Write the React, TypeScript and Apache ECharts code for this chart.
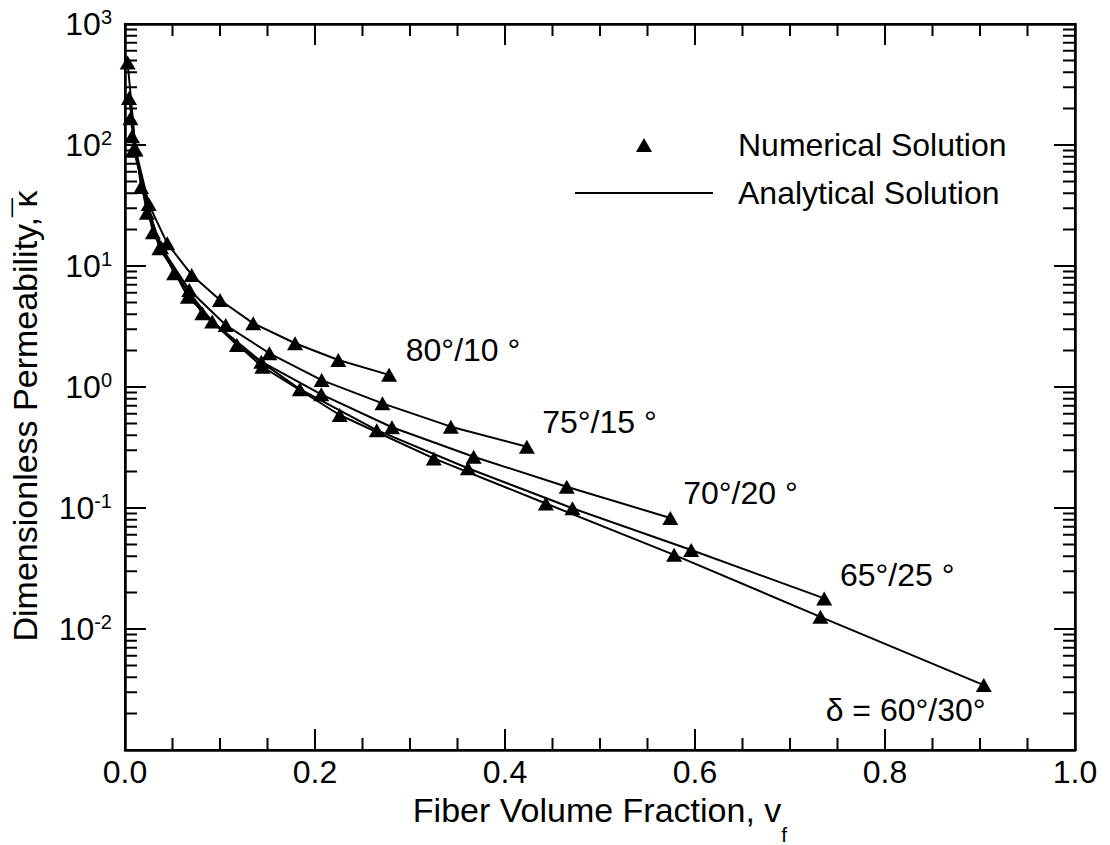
import React, { useEffect, useRef } from 'react';
import * as echarts from 'echarts';

// Fiber volume fraction (x) and dimensionless permeability (y) for each angle pair
const vf80 = [0.0028, 0.0111, 0.025, 0.0444, 0.0702, 0.1, 0.135, 0.179, 0.2245, 0.278];
const k80 = [480, 92, 32.5, 15.4, 8.43, 5.24, 3.36, 2.3, 1.67, 1.26];

const vf75 = [0.0042, 0.0169, 0.038, 0.0677, 0.106, 0.152, 0.207, 0.271, 0.343, 0.423];
const k75 = [245, 45, 14.3, 6.33, 3.25, 1.9, 1.14, 0.733, 0.47, 0.321];

const vf70 = [0.0057, 0.023, 0.0517, 0.0918, 0.1435, 0.2066, 0.281, 0.367, 0.465, 0.574];
const k70 = [166, 27.5, 8.7, 3.47, 1.62, 0.87, 0.465, 0.265, 0.15, 0.0827];

const vf65 = [0.0074, 0.0294, 0.0662, 0.1178, 0.184, 0.265, 0.361, 0.471, 0.596, 0.736];
const k65 = [118, 19, 5.57, 2.22, 0.96, 0.44, 0.213, 0.0995, 0.045, 0.0179];

const vf60 = [0.009, 0.0362, 0.0814, 0.1446, 0.226, 0.325, 0.443, 0.578, 0.732, 0.904];
const k60 = [92, 14.0, 4.06, 1.47, 0.587, 0.257, 0.109, 0.041, 0.0126, 0.00344];

const curveLabels = ['80°/10 °', '75°/15 °', '70°/20 °', '65°/25 °', 'δ = 60°/30°'];
// annotation anchors in data space (left edge, vertical middle of text)
const labelVf = [0.295, 0.4386, 0.587, 0.752, 0.737];
const labelK = [2.02, 0.516, 0.133, 0.0279, 0.00214];

const xTickLabels = ['0.0', '0.2', '0.4', '0.6', '0.8', '1.0'];
const xMajorTicks = [0, 0.2, 0.4, 0.6, 0.8, 1.0];
const xMinorOffsets = [0.05, 0.1, 0.15];
const yDecadeExponents = [-3, -2, -1, 0, 1, 2, 3];
const yMinorMultipliers = [2, 3, 4, 5, 6, 7, 8, 9];

const X_MIN = 0;
const X_MAX = 1;
const Y_MIN = 0.001;
const Y_MAX = 1000;

const FONT = "'Liberation Sans', Arial, sans-serif";
const FS = 32;
const TITLE_FS = 34;
const GRID = { left: 125, top: 24, width: 950, height: 726 };
const MAJOR_LEN = 21;
const MINOR_LEN = 12;

export default function App() {
  const ref = useRef<HTMLDivElement>(null);

  useEffect(() => {
    if (!ref.current) return;
    const chart = echarts.init(ref.current, null, { renderer: 'svg' });

    const curves = [
      { vf: vf80, k: k80 },
      { vf: vf75, k: k75 },
      { vf: vf70, k: k70 },
      { vf: vf65, k: k65 },
      { vf: vf60, k: k60 },
    ];
    const pairs = (xs: number[], ys: number[]) => xs.map((x, i) => [x, ys[i]]);

    const lineSeries = curves.map((c) => ({
      type: 'line',
      name: 'Analytical Solution',
      data: pairs(c.vf, c.k),
      symbol: 'none',
      showSymbol: false,
      lineStyle: { color: '#000', width: 2 },
      itemStyle: { color: '#000' },
      z: 2,
    }));
    const pointSeries = curves.map((c) => ({
      type: 'scatter',
      name: 'Numerical Solution',
      data: pairs(c.vf, c.k),
      symbol: 'triangle',
      symbolSize: [16, 14],
      itemStyle: { color: '#000', opacity: 1 },
      z: 3,
    }));

    // Inward tick marks on all four sides, as continuous paths that run along each
    // axis line (hidden under it) and step out for each tick, in the axes' data space.
    const logPerPx = (Math.log10(Y_MAX) - Math.log10(Y_MIN)) / GRID.height;
    const xPerPx = (X_MAX - X_MIN) / GRID.width;
    const xTicks: { v: number; len: number }[] = [];
    xMajorTicks.forEach((v, i) => {
      xTicks.push({ v, len: MAJOR_LEN });
      if (i < xMajorTicks.length - 1) xMinorOffsets.forEach((o) => xTicks.push({ v: v + o, len: MINOR_LEN }));
    });
    const yTicks: { v: number; len: number }[] = [];
    yDecadeExponents.forEach((e) => {
      const dec = Math.pow(10, e);
      yTicks.push({ v: dec, len: MAJOR_LEN });
      if (e < 3) yMinorMultipliers.forEach((m) => yTicks.push({ v: m * dec, len: MINOR_LEN }));
    });
    const bottomPath: number[][] = [];
    const topPath: number[][] = [];
    xTicks.forEach(({ v, len }) => {
      const f = Math.pow(10, len * logPerPx);
      bottomPath.push([v, Y_MIN], [v, Y_MIN * f], [v, Y_MIN]);
      topPath.push([v, Y_MAX], [v, Y_MAX / f], [v, Y_MAX]);
    });
    const leftPath: number[][] = [];
    const rightPath: number[][] = [];
    yTicks.forEach(({ v, len }) => {
      const dx = len * xPerPx;
      leftPath.push([X_MIN, v], [X_MIN + dx, v], [X_MIN, v]);
      rightPath.push([X_MAX, v], [X_MAX - dx, v], [X_MAX, v]);
    });
    const tickSeries = [bottomPath, topPath, leftPath, rightPath].map((d, i) => ({
      type: 'line',
      name: 'ticks' + i,
      data: d,
      symbol: 'none',
      showSymbol: false,
      clip: false,
      lineStyle: { color: '#000', width: 2 },
      itemStyle: { color: '#000' },
      z: 2,
    }));

    const mkLine = () => ({ show: true, onZero: false, lineStyle: { color: '#000', width: 2.5 } });
    const mkTick = () => ({ show: true, inside: true, length: MAJOR_LEN, lineStyle: { color: '#000', width: 2 } });

    const option: any = {
      animation: false,
      textStyle: { fontFamily: FONT },
      grid: { ...GRID, containLabel: false, outerBoundsMode: 'none' },
      legend: [
        {
          data: [{ name: 'Numerical Solution', icon: 'triangle' }],
          left: 631,
          top: 124,
          itemWidth: 16,
          itemHeight: 14,
          selectedMode: false,
          itemStyle: { color: '#000', opacity: 1 },
          textStyle: { fontSize: FS, color: '#000', fontFamily: FONT, padding: [0, 0, 0, 81] },
        },
        {
          data: [{ name: 'Analytical Solution', icon: 'rect' }],
          left: 570,
          top: 172,
          itemWidth: 138,
          itemHeight: 2,
          selectedMode: false,
          itemStyle: { color: '#000' },
          textStyle: { fontSize: FS, color: '#000', fontFamily: FONT, padding: [0, 0, 0, 20] },
        },
      ],
      xAxis: [
        {
          type: 'value',
          min: X_MIN,
          max: X_MAX,
          interval: 0.2,
          position: 'bottom',
          axisLine: mkLine(),
          axisTick: mkTick(),
          splitLine: { show: false },
          axisLabel: {
            show: true,
            color: '#000',
            fontSize: FS,
            fontFamily: FONT,
            margin: 6,
            formatter: (v: number) => xTickLabels[Math.round(v / 0.2)] ?? v.toFixed(1),
          },
          name: '{t|Fiber Volume Fraction, v}{s|f}',
          nameLocation: 'middle',
          nameGap: 39,
          nameTextStyle: {
            rich: {
              t: { fontSize: TITLE_FS, fontFamily: FONT, color: '#000', lineHeight: 36, verticalAlign: 'top' },
              s: { fontSize: 21, fontFamily: FONT, color: '#000', lineHeight: 21, verticalAlign: 'top', padding: [31, 0, 0, 0] },
            },
          },
        },
        {
          type: 'value',
          min: X_MIN,
          max: X_MAX,
          interval: 0.2,
          position: 'top',
          axisLine: mkLine(),
          axisTick: mkTick(),
          splitLine: { show: false },
          axisLabel: { show: false },
        },
      ],
      yAxis: [
        {
          type: 'log',
          logBase: 10,
          min: Y_MIN,
          max: Y_MAX,
          splitNumber: 6,
          position: 'left',
          axisLine: mkLine(),
          axisTick: mkTick(),
          splitLine: { show: false },
          axisLabel: {
            show: true,
            margin: 13,
            formatter: (v: number) => {
              if (v < 0.0015) return '';
              const e = Math.round(Math.log10(v));
              return `{b|10}{s|${e}}`;
            },
            rich: {
              b: { fontSize: FS, fontFamily: FONT, color: '#000', lineHeight: 34 },
              s: { fontSize: 20, fontFamily: FONT, color: '#000', lineHeight: 20, verticalAlign: 'top' },
            },
          },
          name: '{t|Dimensionless Permeability, }{m|\u00AF}{t|κ}',
          nameLocation: 'middle',
          nameGap: 80,
          nameTextStyle: {
            padding: [0, 58, 0, 0],
            rich: {
              t: { fontSize: TITLE_FS, fontFamily: FONT, color: '#000', lineHeight: 40 },
              m: { fontSize: TITLE_FS, fontFamily: FONT, color: '#000', lineHeight: 40, width: 0.01 },
            },
          },
        },
        {
          type: 'log',
          logBase: 10,
          min: Y_MIN,
          max: Y_MAX,
          splitNumber: 6,
          position: 'right',
          axisLine: mkLine(),
          axisTick: mkTick(),
          splitLine: { show: false },
          axisLabel: { show: false },
        },
      ],
      series: [
        ...tickSeries,
        ...lineSeries,
        ...pointSeries,
        {
          type: 'scatter',
          name: 'curveLabels',
          symbol: 'circle',
          symbolSize: 1,
          itemStyle: { color: 'rgba(0,0,0,0)', opacity: 1 },
          data: labelVf.map((x, i) => ({ value: [x, labelK[i]], label: { formatter: curveLabels[i] } })),
          label: { show: true, position: 'right', distance: 0, color: '#000', fontSize: FS, fontFamily: FONT },
          z: 4,
        },
      ],
    };

    chart.setOption(option);
    return () => chart.dispose();
  }, []);

  return <div ref={ref} style={{ position: 'absolute', left: 0, top: 0, width: 1110, height: 845, background: '#fff' }} />;
}
